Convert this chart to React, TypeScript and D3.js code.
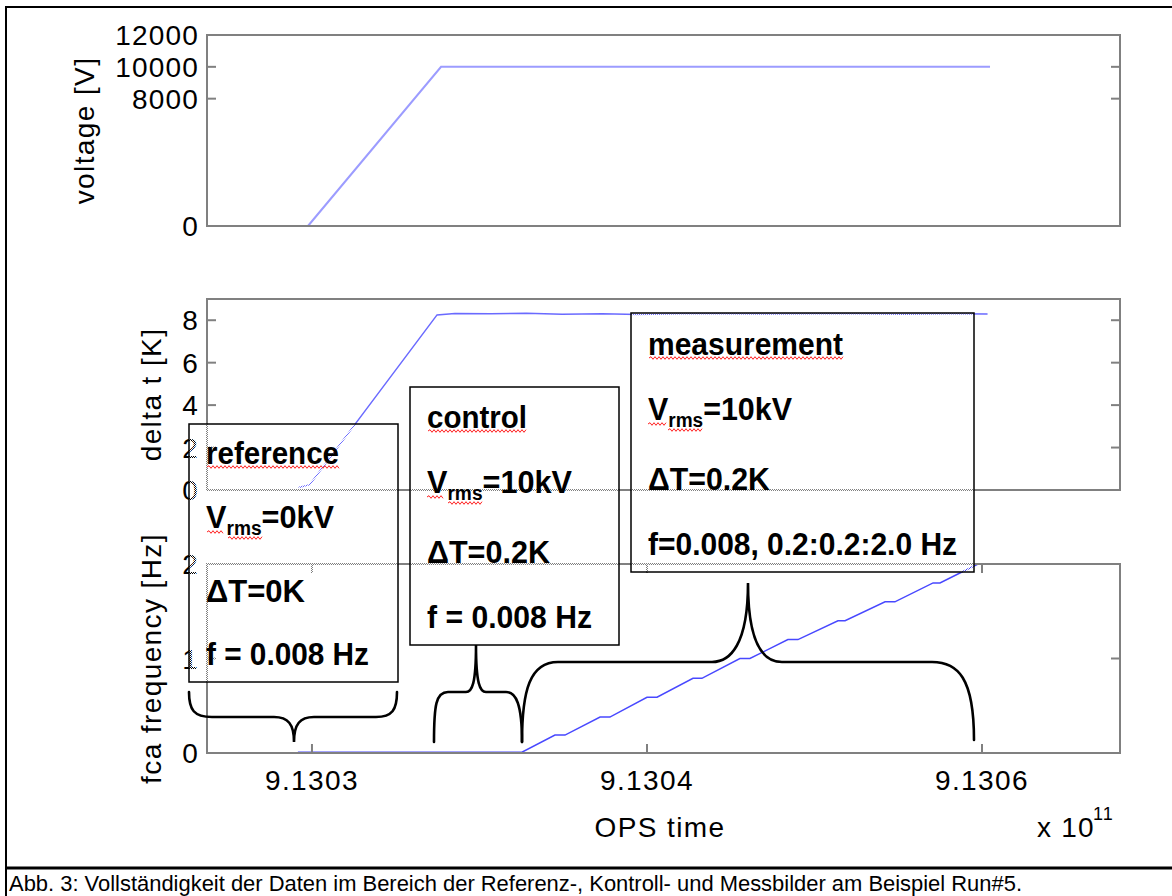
import React from 'react';
import * as d3 from 'd3';

// OPS time as offset from 9.1302e11, in units of 1e6 s
const timeTicks = [5, 20, 35];
const timeTickLabels = ['9.1303', '9.1304', '9.1306'];

const voltageTime = [4.82, 10.78, 35.36];
const voltageValue = [0, 10000, 10000];
const voltageTicks = [0, 8000, 10000, 12000];

const deltaTime = [4.4, 4.9, 10.6, 11.4, 13.0, 14.6, 16.2, 18.0, 19.6, 21.5, 23.5, 25.5, 27.5, 29.5, 31.5, 33.5, 35.25];
const deltaValue = [0.12, 0.25, 8.25, 8.32, 8.3, 8.33, 8.28, 8.3, 8.27, 8.31, 8.3, 8.29, 8.31, 8.3, 8.28, 8.3, 8.29];
const deltaTicks = [0, 2, 4, 6, 8];

const freqTime = [4.37, 14.4, 15.88, 16.33, 17.9, 18.34, 20.0, 20.45, 22.06, 22.46, 24.16, 24.61, 26.31, 26.76, 28.55, 28.87, 30.66, 31.1, 32.81, 33.12, 34.82];
const freqValue = [0.008, 0.008, 0.19, 0.19, 0.38, 0.38, 0.59, 0.59, 0.79, 0.79, 1.0, 1.0, 1.2, 1.2, 1.4, 1.4, 1.6, 1.6, 1.8, 1.8, 2.0];
const freqTicks = [0, 1, 2];

const yLabels = ['voltage [V]', 'delta t [K]', 'fca frequency [Hz]'];
const xLabel = 'OPS time';

// annotation texts: [title, V value, dT line, f line]
const refLines = ['reference', '=0kV', '\u0394T=0K', 'f = 0.008 Hz'];
const ctlLines = ['control', '=10kV', '\u0394T=0.2K', 'f = 0.008 Hz'];
const measLines = ['measurement', '=10kV', '\u0394T=0.2K', 'f=0.008, 0.2:0.2:2.0 Hz'];

const caption = 'Abb. 3: Vollständigkeit der Daten im Bereich der Referenz-, Kontroll- und Messbilder am Beispiel Run#5.';

const AXIS = '#808080';
const FONT = "'Liberation Sans', Arial, Helvetica, sans-serif";
const BOLD = "'Liberation Sans Narrow', 'Arial Narrow', 'Liberation Sans', Arial, sans-serif";

const wavy = (x0: number, x1: number, y: number) => {
  let d = `M${x0},${y}`;
  let up = true;
  for (let x = x0 + 2; x <= x1; x += 2) {
    d += ` L${x},${y + (up ? -1.3 : 1.3)}`;
    up = !up;
  }
  return d;
};

export default function App() {
  const X0 = 207, X1 = 1120;
  const x = d3.scaleLinear().domain([0.3, 41.18]).range([X0, X1]);

  const panels = [
    { top: 35, bottom: 226, domain: [0, 12000], ticks: voltageTicks, labelX: 94, t: voltageTime, v: voltageValue, color: '#9c9cff', w: 2 },
    { top: 299, bottom: 490, domain: [0, 9], ticks: deltaTicks, labelX: 161, t: deltaTime, v: deltaValue, color: '#6a6aff', w: 1.5 },
    { top: 564, bottom: 753, domain: [0, 2], ticks: freqTicks, labelX: 161, t: freqTime, v: freqValue, color: '#4848ff', w: 1.5 },
  ];

  const boxText = (lines: string[], tx: number, base: number[], lens: number[], wav: { title: number; v: [number, number]; rms: [number, number] }) => (
    <g>
      <text x={tx} y={base[0]} fontFamily={BOLD} fontWeight="bold" fontSize={32} textLength={lens[0]} lengthAdjust="spacingAndGlyphs">{lines[0]}</text>
      <path d={wavy(tx + 1, tx + wav.title, base[0] + 3)} fill="none" stroke="#ff2020" strokeWidth={1} />
      <text x={tx} y={base[1]} fontFamily={BOLD} fontWeight="bold" fontSize={32} textLength={lens[1]} lengthAdjust="spacingAndGlyphs">
        <tspan>V</tspan>
        <tspan fontSize={20} dy={7}>rms</tspan>
        <tspan dy={-7}>{lines[1]}</tspan>
      </text>
      <path d={wavy(tx + wav.v[0], tx + wav.v[1], base[1] + 4)} fill="none" stroke="#ff2020" strokeWidth={1} />
      <path d={wavy(tx + wav.rms[0], tx + wav.rms[1], base[1] + 10)} fill="none" stroke="#ff2020" strokeWidth={1} />
      <text x={tx} y={base[2]} fontFamily={BOLD} fontWeight="bold" fontSize={32} textLength={lens[2]} lengthAdjust="spacingAndGlyphs">{lines[2]}</text>
      <text x={tx} y={base[3]} fontFamily={BOLD} fontWeight="bold" fontSize={32} textLength={lens[3]} lengthAdjust="spacingAndGlyphs">{lines[3]}</text>
    </g>
  );

  return (
    <svg width={1172} height={896} style={{ position: 'absolute', left: 0, top: 0, background: '#fff' }}>
      <defs>
        <pattern id="screen" x={0} y={0} width={2} height={2} patternUnits="userSpaceOnUse">
          <rect x={0} y={0} width={1} height={1} fill="#fff" shapeRendering="crispEdges" />
          <rect x={1} y={1} width={1} height={1} fill="#fff" shapeRendering="crispEdges" />
        </pattern>
      </defs>
      <rect x={0} y={0} width={1172} height={896} fill="#fff" />

      {/* outer frame */}
      <line x1={6} y1={7} x2={1172} y2={7} stroke="#000" strokeWidth={2} />
      <line x1={6} y1={6} x2={6} y2={896} stroke="#000" strokeWidth={2} />
      <line x1={5} y1={868} x2={1172} y2={868} stroke="#000" strokeWidth={3} />

      {panels.map((p, i) => {
        const y = d3.scaleLinear().domain(p.domain).range([p.bottom, p.top]);
        const line = d3.line<number>().x((d) => x(d)).y((_, k) => y(p.v[k]));
        return (
          <g key={i}>
            <path d={line(p.t) || ''} fill="none" stroke={p.color} strokeWidth={p.w} />
            <rect x={X0} y={p.top} width={X1 - X0} height={p.bottom - p.top} fill="none" stroke={AXIS} strokeWidth={2} />
            {p.ticks.map((tk) => (
              <g key={tk}>
                <line x1={X0} x2={X0 + 9} y1={y(tk)} y2={y(tk)} stroke={AXIS} strokeWidth={2} />
                <line x1={X1 - 9} x2={X1} y1={y(tk)} y2={y(tk)} stroke={AXIS} strokeWidth={2} />
                <text x={X0 - 8} y={y(tk)} dy="0.36em" textAnchor="end" fontFamily={FONT} fontSize={28} letterSpacing={1.2} fill="#000">{tk}</text>
              </g>
            ))}
            <text transform={`translate(${p.labelX},${(p.top + p.bottom) / 2}) rotate(-90)`} textAnchor="middle" fontFamily={FONT} fontSize={28} letterSpacing={1.4} fill="#000">{yLabels[i]}</text>
          </g>
        );
      })}

      {/* x axis ticks on the bottom panel */}
      {timeTicks.map((tk, i) => (
        <g key={tk}>
          <line x1={x(tk)} x2={x(tk)} y1={753} y2={744} stroke={AXIS} strokeWidth={2} />
          <line x1={x(tk)} x2={x(tk)} y1={564} y2={573} stroke={AXIS} strokeWidth={2} />
          <text x={x(tk)} y={790} textAnchor="middle" fontFamily={FONT} fontSize={28} letterSpacing={1.4} fill="#000">{timeTickLabels[i]}</text>
        </g>
      ))}
      <text x={660} y={837} textAnchor="middle" fontFamily={FONT} fontSize={28} letterSpacing={1.4} fill="#000">{xLabel}</text>
      <text x={1037} y={837} fontFamily={FONT} fontSize={28} letterSpacing={1.2} fill="#000">x 10</text>
      <text x={1093} y={820} fontFamily={FONT} fontSize={18} letterSpacing={1} fill="#000">11</text>

      {/* annotation boxes */}
      <rect x={189} y={424} width={209} height={258} fill="url(#screen)" stroke="#000" strokeWidth={1.5} />
      <rect x={410} y={387} width={209} height={258} fill="url(#screen)" stroke="#000" strokeWidth={1.5} />
      <rect x={631} y={313} width={343} height={259} fill="url(#screen)" stroke="#000" strokeWidth={1.5} />

      {boxText(refLines, 206, [464, 528, 602, 665], [133, 128, 99, 163], { title: 133, v: [1, 17], rms: [22, 56] })}
      {boxText(ctlLines, 427, [428, 493, 563, 628], [100, 145, 123, 165], { title: 100, v: [0, 17], rms: [21, 55] })}
      {boxText(measLines, 648, [355, 420, 490, 555], [195, 144, 122, 309], { title: 195, v: [0, 19], rms: [20, 55] })}

      {/* braces */}
      <g fill="none" stroke="#000" strokeWidth={2.6} strokeLinecap="round">
        <path d="M189,692 C189,710 194,717 212,717 L274,717 C288,717 294,724 294,742 C294,724 300,717 314,717 L376,717 C392,717 397,710 397,692" />
        <path d="M434,742 C434,705 436,692 448,692 L466,692 C472,692 476,684 476,645 C476,684 480,692 486,692 L506,692 C516,692 522,704 522,742" />
        <path d="M522,742 C522,690 530,662 558,662 L712,662 C730,662 748,645 748,583 C748,645 764,662 782,662 L932,662 C958,662 974,678 974,740" />
      </g>

      {/* caption */}
      <text x={9} y={891} fontFamily={BOLD} fontSize={22} textLength={1013} lengthAdjust="spacingAndGlyphs" fill="#000">{caption}</text>
    </svg>
  );
}
